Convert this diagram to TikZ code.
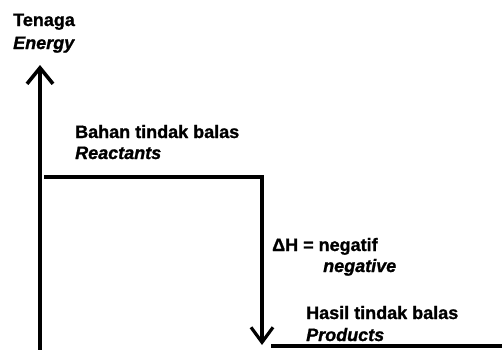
\documentclass[tikz,border=0pt]{standalone}
\usepackage{fontspec}
\setmainfont{Liberation Sans}[BoldFeatures={FakeBold=1.2}, BoldItalicFeatures={FakeBold=1.2}]
\usepackage{tikz}
\usetikzlibrary{arrows.meta}
\tikzset{
    lbl/.style={inner sep=0pt, anchor=base west, font=\bfseries\fontsize{18}{21}\selectfont},
    eng/.style={lbl, font=\bfseries\itshape\fontsize{18}{21}\selectfont},
    axis/.style={line width=3.6pt, -{Straight Barb[length=16pt, width=26pt]}},
    level/.style={line width=3.2pt},
    change/.style={line width=3.2pt, -{Straight Barb[length=15pt, width=22pt]}}
}

\begin{document}
\begin{tikzpicture}[x=1pt, y=1pt]
    \useasboundingbox (0, 0) rectangle (502, 349);
    \coordinate (origin) at (40, -4);
    \coordinate (top) at (40, 284);
    \coordinate (reactL) at (44, 172);
    \coordinate (reactR) at (262, 172);
    \coordinate (prodTip) at (262, 4);
    \coordinate (prodL) at (271, 3);
    \coordinate (prodR) at (504, 3);
    \draw[axis] (origin) to (top);
    \draw[change] (reactL) -- (reactR) -- (prodTip);
    \draw[level] (prodL) to (prodR);
    \node[lbl] (tenaga) at (13, 323) {Tenaga};
    \node[eng] (energy) at (13, 300) {Energy};
    \node[lbl] (bahan) at (75, 211) {Bahan tindak balas};
    \node[eng] (reactants) at (75, 190) {Reactants};
    \node[lbl] (deltaH) at (272, 98) {ΔH = negatif};
    \node[eng] (negative) at (323, 77) {negative};
    \node[lbl] (hasil) at (306, 30) {Hasil tindak balas};
    \node[eng] (products) at (306, 8) {Products};
\end{tikzpicture}
\end{document}
